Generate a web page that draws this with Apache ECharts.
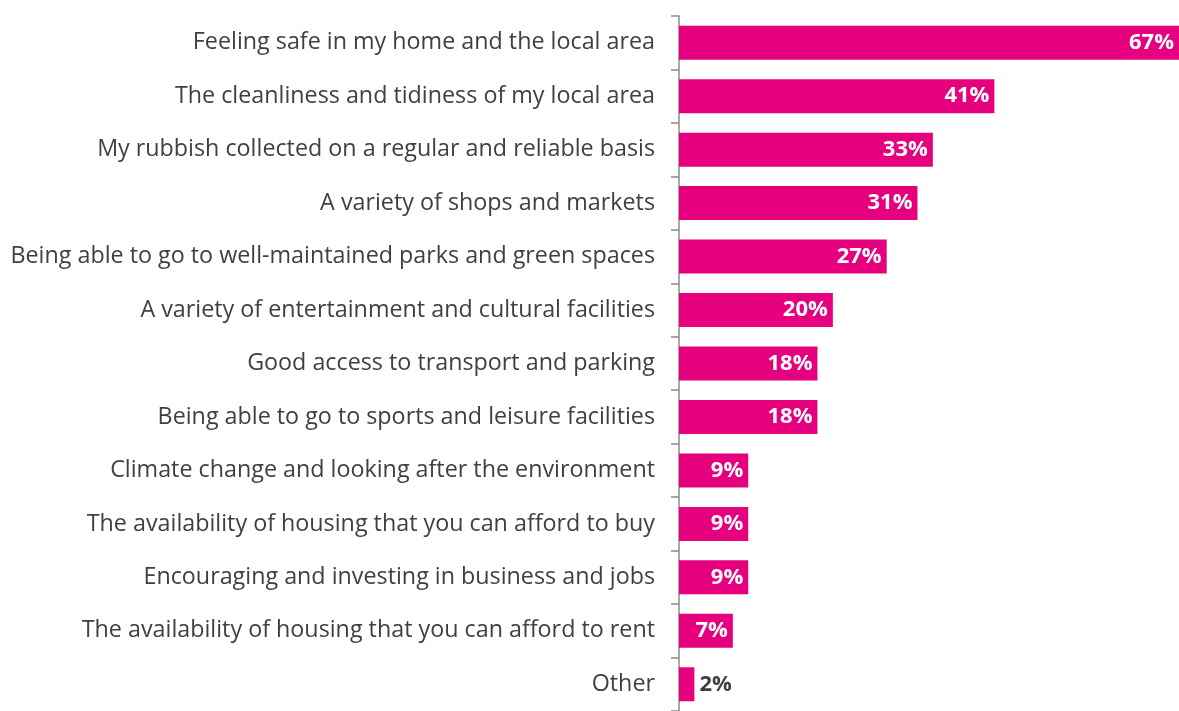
<!DOCTYPE html>
<html>
<head>
<meta charset="utf-8">
<script src="https://cdn.jsdelivr.net/npm/echarts@6/dist/echarts.min.js"></script>
<style>
  html, body { margin: 0; padding: 0; background: #fff; }
  #chart { width: 1179px; height: 711px; }
</style>
</head>
<body>
<div id="chart"></div>
<script>
const categories = [
  'Feeling safe in my home and the local area',
  'The cleanliness and tidiness of my local area',
  'My rubbish collected on a regular and reliable basis',
  'A variety of shops and markets',
  'Being able to go to well-maintained parks and green spaces',
  'A variety of entertainment and cultural facilities',
  'Good access to transport and parking',
  'Being able to go to sports and leisure facilities',
  'Climate change and looking after the environment',
  'The availability of housing that you can afford to buy',
  'Encouraging and investing in business and jobs',
  'The availability of housing that you can afford to rent',
  'Other'
]
const values = [67, 41, 33, 31, 27, 20, 18, 18, 9, 9, 9, 7, 2]

const chart = echarts.init(document.getElementById('chart'))

// tiny bars get their label outside, in dark grey
const data = values.map(v => {
  if (v < 5) {
    return { value: v, label: { position: 'right', color: '#404040', distance: 5 } }
  }
  return v
})

chart.setOption({
  animation: false,
  grid: { left: 679, right: 0, top: 16, bottom: -10, containLabel: false },
  xAxis: {
    type: 'value',
    min: 0,
    max: 65,
    show: false
  },
  yAxis: {
    type: 'category',
    data: categories,
    inverse: true,
    axisLine: { show: true, lineStyle: { color: '#8c8c8c', width: 1.5 } },
    axisTick: { show: true, length: 8, lineStyle: { color: '#8c8c8c', width: 1.5 } },
    axisLabel: {
      margin: 24,
      fontFamily: 'Open Sans',
      fontSize: 23.3,
      color: '#404040'
    }
  },
  series: [{
    type: 'bar',
    data: data,
    barWidth: 34,
    clip: true,
    itemStyle: { color: '#e6007e' },
    label: {
      show: true,
      position: 'insideRight',
      distance: 5,
      formatter: '{c}%',
      color: '#ffffff',
      fontFamily: 'Open Sans',
      fontWeight: 'bold',
      fontSize: 22
    }
  }]
})
</script>
</body>
</html>
